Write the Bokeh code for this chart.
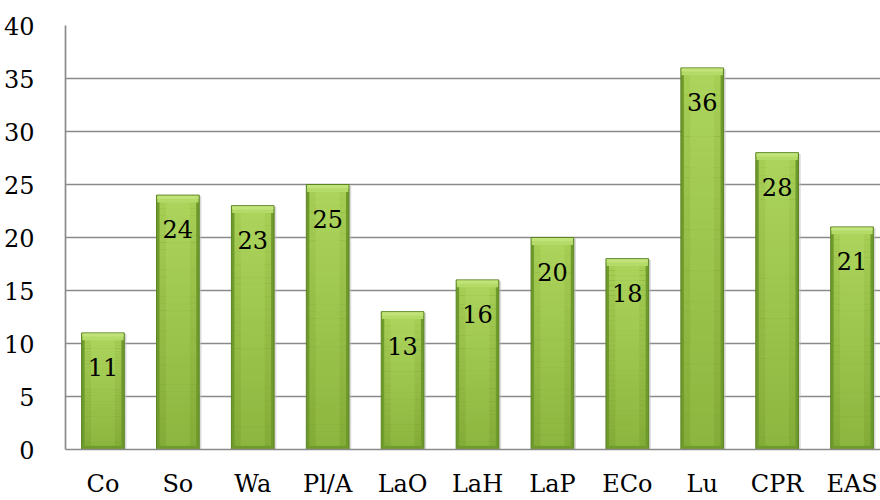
from bokeh.plotting import figure
from bokeh.models import Range1d, FixedTicker
from bokeh.embed import file_html
from bokeh.resources import INLINE
from bokeh.core.properties import value as val

categories = ["Co", "So", "Wa", "Pl/A", "LaO", "LaH", "LaP", "ECo", "Lu", "CPR", "EAS"]
values = [11, 24, 23, 25, 13, 16, 20, 18, 36, 28, 21]
y_ticks = [0, 5, 10, 15, 20, 25, 30, 35, 40]

xs = list(range(len(categories)))
SERIF = "DejaVu Serif"

p = figure(width=880, height=500, output_backend="svg", toolbar_location=None,
           x_range=Range1d(-0.5, 10.38), y_range=Range1d(0, 40),
           min_border_left=64, min_border_right=0, min_border_top=25, min_border_bottom=51)
p.outline_line_color = None
p.background_fill_color = "white"
p.border_fill_color = "white"

grid_col = "#8a8a8a"
p.xgrid.grid_line_color = None
p.ygrid.grid_line_color = grid_col
p.ygrid.grid_line_width = 1.7
p.yaxis.ticker = FixedTicker(ticks=y_ticks)
p.xaxis.ticker = FixedTicker(ticks=xs)
p.xaxis.major_label_overrides = {i: c for i, c in enumerate(categories)}

for ax in (p.xaxis, p.yaxis):
    ax.axis_line_color = grid_col
    ax.axis_line_width = 1.7
    ax.major_tick_line_color = None
    ax.minor_tick_line_color = None
    ax.major_label_text_font = SERIF
    ax.major_label_text_font_size = "24px"
    ax.major_label_text_color = "black"
p.yaxis.major_label_standoff = 25
p.xaxis.major_label_standoff = 14

# drop shadow
p.vbar(x=[x + 0.03 for x in xs], top=[v - 0.12 for v in values], bottom=0, width=0.57,
       fill_color="#bdbdbd", fill_alpha=0.55, line_color=None)
# outer bar
p.vbar(x=xs, top=values, bottom=0, width=0.57, fill_color="#6f9a2c", line_color="#5b8423", line_width=1)

n = 36
def mix(c1, c2, t):
    a = [int(c1[i:i + 2], 16) for i in (1, 3, 5)]
    b = [int(c2[i:i + 2], 16) for i in (1, 3, 5)]
    return "#%02x%02x%02x" % tuple(int(round(a[k] + (b[k] - a[k]) * t)) for k in range(3))

# body with vertical gradient (darker at the bottom, lighter at the top)
for i in range(n):
    t = i / (n - 1)
    bots = [0.35 + (v - 1.0) * i / n for v in values]
    tops = [0.35 + (v - 1.0) * (i + 1) / n + 0.02 for v in values]
    p.vbar(x=xs, top=tops, bottom=bots, width=0.49, fill_color=mix("#84ac38", "#a6ce55", t),
           line_color=None)
# lighter center strip
for i in range(n):
    t = i / (n - 1)
    bots = [0.35 + (v - 1.0) * i / n for v in values]
    tops = [0.35 + (v - 1.0) * (i + 1) / n + 0.02 for v in values]
    p.vbar(x=xs, top=tops, bottom=bots, width=0.32, fill_color=mix("#8cb63f", "#acd45c", t),
           line_color=None)

# top bevel
p.vbar(x=xs, top=[v - 0.05 for v in values], bottom=[v - 0.7 for v in values], width=0.55,
       fill_color="#b4da68", line_color=None)
p.vbar(x=xs, top=[v - 0.05 for v in values], bottom=[v - 0.35 for v in values], width=0.55,
       fill_color="#c2e37a", line_color=None)

# value labels
p.text(x=xs, y=values, text=[str(v) for v in values], text_align="center", text_baseline="middle",
       y_offset=34, text_font=val(SERIF), text_font_size="24px", text_color="black")

open("out.html", "w").write(file_html(p, INLINE))
